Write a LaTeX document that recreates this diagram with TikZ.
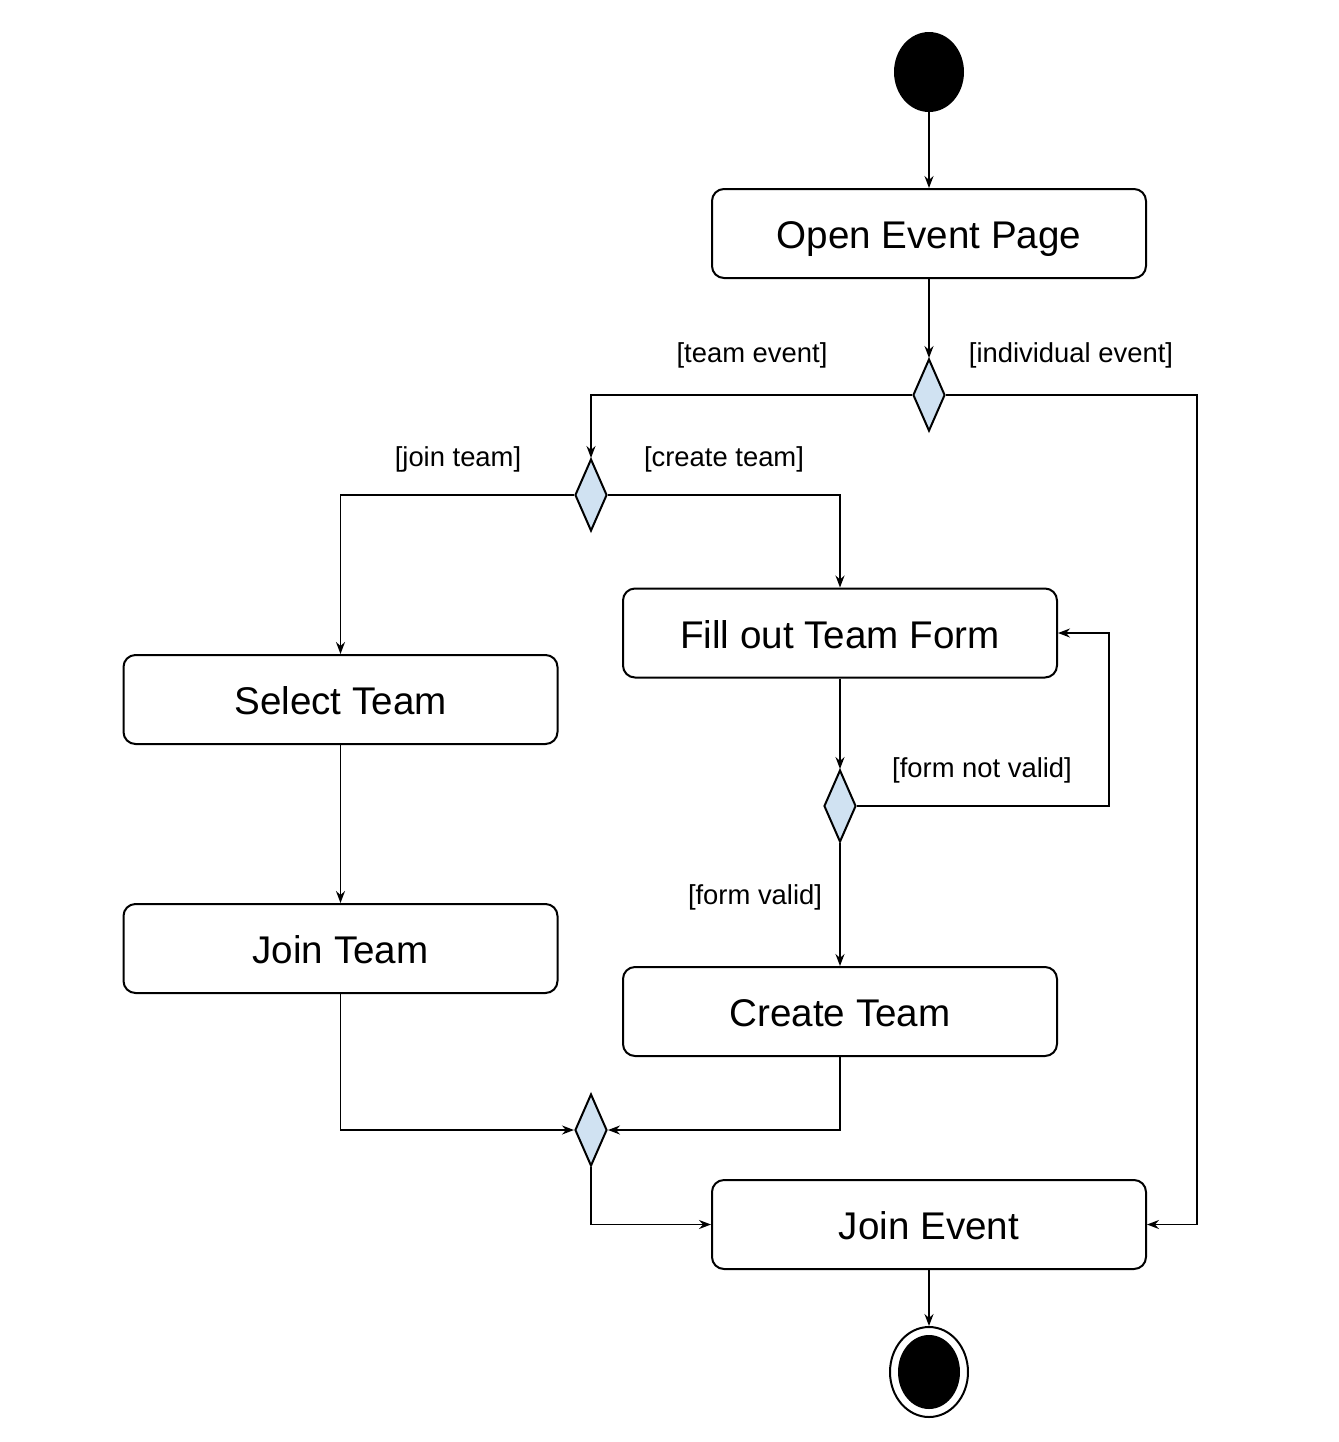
\documentclass[tikz,border=0pt]{standalone}
\usepackage{fontspec}
\setmainfont{Liberation Sans}
\usetikzlibrary{shapes.geometric,arrows.meta}
\tikzset{
    activity-box/.style = {draw, fill=white, line width=1pt, rectangle, rounded corners=6pt, minimum width=217pt, minimum height=44.5pt, inner sep=0pt, text height=19pt, text depth=4pt, font=\fontsize{19.3}{23}\selectfont},
    decision/.style = {draw, fill=decision-blue, line width=1pt, diamond, minimum width=16pt, minimum height=36pt, inner sep=0pt},
    start-node/.style = {ellipse, fill=black, minimum width=35pt, minimum height=40pt, inner sep=0pt},
    end-node/.style = {draw, ellipse, line width=1pt, minimum width=39pt, minimum height=45pt, inner sep=0pt},
    end-dot/.style = {ellipse, fill=black, minimum width=31pt, minimum height=37pt, inner sep=0pt},
    guard-label/.style = {text height=10.5pt, text depth=3.4pt, font=\fontsize{13.7}{16}\selectfont},
    flow/.style = {line width=0.9pt, -{Stealth[length=6pt,width=4.5pt,inset=2pt]}},
}
\definecolor{decision-blue}{HTML}{D0E2F2}

\begin{document}
\begin{tikzpicture}[x=0.5pt,y=-0.5pt]
\useasboundingbox (0,0) rectangle (1339,1442);
\node[start-node] (start) at (929,72) {};
\node[activity-box] (open) at (929,233.5) {Open Event Page};
\node[decision] (d-type) at (929,395) {};
\node[decision] (d-team) at (591,495) {};
\node[activity-box] (select) at (340.5,699.5) {Select Team};
\node[activity-box] (join-team) at (340.5,948.5) {Join Team};
\node[activity-box] (form) at (840,633) {Fill out Team Form};
\node[decision] (d-valid) at (840,806) {};
\node[activity-box] (create) at (840,1011.5) {Create Team};
\node[decision] (d-merge) at (591,1130) {};
\node[activity-box] (join-event) at (929,1224.5) {Join Event};
\node[end-node] (end) at (929,1372) {};
\node[end-dot] (end-inner) at (929,1372) {};
\coordinate (indiv-corner) at (1197,395);
\coordinate (retry-corner) at (1109,806);

\node[guard-label] (l-team) at (752,355) {[team event]};
\node[guard-label] (l-indiv) at (1071,355) {[individual event]};
\node[guard-label] (l-join) at (458,459) {[join team]};
\node[guard-label] (l-create) at (724,459) {[create team]};
\node[guard-label] (l-invalid) at (982,770) {[form not valid]};
\node[guard-label] (l-valid) at (755,897) {[form valid]};

\draw[flow] (start) -- (open);
\draw[flow] (open) -- (d-type);
\draw[flow] (d-type.west) -| (d-team.north);
\draw[flow] (d-type.east) -- (indiv-corner) |- (join-event.east);
\draw[flow] (d-team.west) -| (select.north);
\draw[flow] (d-team.east) -| (form.north);
\draw[flow] (select) -- (join-team);
\draw[flow] (form) -- (d-valid);
\draw[flow] (d-valid.east) -- (retry-corner) |- (form.east);
\draw[flow] (d-valid) -- (create);
\draw[flow] (join-team.south) |- (d-merge.west);
\draw[flow] (create.south) |- (d-merge.east);
\draw[flow] (d-merge.south) |- (join-event.west);
\draw[flow] (join-event) -- (end);
\end{tikzpicture}
\end{document}
